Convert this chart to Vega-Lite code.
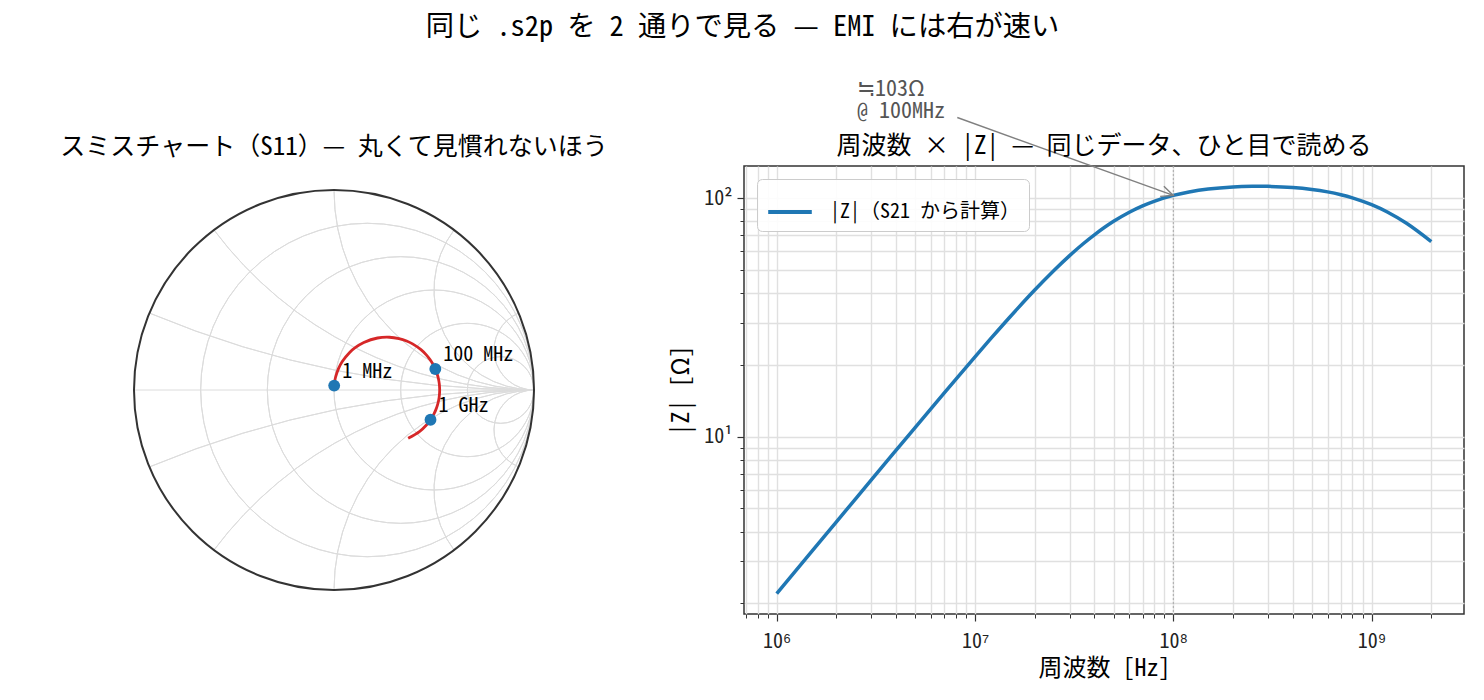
{
  "$schema": "https://vega.github.io/schema/vega-lite/v6.json",
  "background": "white",
  "padding": {"left": 60, "top": 12, "right": 20, "bottom": 22},
  "title": {"text": "同じ .s2p を 2 通りで見る — EMI には右が速い", "anchor": "middle", "frame": "bounds", "fontSize": 28.3, "fontWeight": "normal", "offset": 35.5, "dx": -20, "color": "#000000"},
  "bounds": "flush",
  "spacing": 186,
  "resolve": {"scale": {"color": "independent"}, "legend": {"color": "independent"}},
  "datasets": {
    "smithgrid": [
      {"cx": 0.16667, "cy": 0, "r": 0.83333, "a0": 0, "a1": 360},
      {"cx": 0.33333, "cy": 0, "r": 0.66667, "a0": 0, "a1": 360},
      {"cx": 0.5, "cy": 0, "r": 0.5, "a0": 0, "a1": 360},
      {"cx": 0.66667, "cy": 0, "r": 0.33333, "a0": 0, "a1": 360},
      {"cx": 0.83333, "cy": 0, "r": 0.16667, "a0": 0, "a1": 360},
      {"cx": 1, "cy": 5, "r": 5, "a0": -90, "a1": -112.62},
      {"cx": 1, "cy": 2, "r": 2, "a0": -90, "a1": -143.13},
      {"cx": 1, "cy": 1, "r": 1, "a0": -90, "a1": -180},
      {"cx": 1, "cy": 0.5, "r": 0.5, "a0": -90, "a1": -216.87},
      {"cx": 1, "cy": 0.2, "r": 0.2, "a0": -90, "a1": -247.38},
      {"cx": 1, "cy": -5, "r": 5, "a0": 90, "a1": 112.62},
      {"cx": 1, "cy": -2, "r": 2, "a0": 90, "a1": 143.13},
      {"cx": 1, "cy": -1, "r": 1, "a0": 90, "a1": 180},
      {"cx": 1, "cy": -0.5, "r": 0.5, "a0": 90, "a1": 216.87},
      {"cx": 1, "cy": -0.2, "r": 0.2, "a0": 90, "a1": 247.38}
    ],
    "sweep": [
      {"f": 1000000, "z": 2.199, "gr": 0.0009, "gi": 0.022, "label": "1 MHz"},
      {"f": 2000000, "z": 4.395, "gr": 0.0036, "gi": 0.0437},
      {"f": 3000000, "z": 6.587, "gr": 0.0081, "gi": 0.065},
      {"f": 5000000, "z": 10.947, "gr": 0.0219, "gi": 0.1054},
      {"f": 7000000, "z": 15.261, "gr": 0.0414, "gi": 0.142},
      {"f": 10000000, "z": 21.608, "gr": 0.0782, "gi": 0.1876},
      {"f": 12000000, "z": 25.735, "gr": 0.1058, "gi": 0.2115},
      {"f": 15000000, "z": 31.733, "gr": 0.1489, "gi": 0.2377},
      {"f": 20000000, "z": 41.136, "gr": 0.2177, "gi": 0.26},
      {"f": 25000000, "z": 49.7, "gr": 0.277, "gi": 0.2638},
      {"f": 30000000, "z": 57.37, "gr": 0.325, "gi": 0.257},
      {"f": 35000000, "z": 64.17, "gr": 0.363, "gi": 0.245},
      {"f": 40000000, "z": 70.13, "gr": 0.3928, "gi": 0.2307},
      {"f": 50000000, "z": 79.85, "gr": 0.4348, "gi": 0.2017},
      {"f": 60000000, "z": 87.17, "gr": 0.4615, "gi": 0.1756},
      {"f": 70000000, "z": 92.69, "gr": 0.4792, "gi": 0.1533},
      {"f": 80000000, "z": 96.87, "gr": 0.4915, "gi": 0.1345},
      {"f": 100000000, "z": 102.56, "gr": 0.5066, "gi": 0.1049, "label": "100 MHz"},
      {"f": 120000000, "z": 106.04, "gr": 0.5151, "gi": 0.0826},
      {"f": 150000000, "z": 109.06, "gr": 0.5219, "gi": 0.0576},
      {"f": 200000000, "z": 111.28, "gr": 0.5268, "gi": 0.0283},
      {"f": 250000000, "z": 111.96, "gr": 0.5282, "gi": 0.0069},
      {"f": 300000000, "z": 111.9, "gr": 0.5281, "gi": -0.0103},
      {"f": 400000000, "z": 110.69, "gr": 0.5255, "gi": -0.0382},
      {"f": 500000000, "z": 108.66, "gr": 0.5211, "gi": -0.0614},
      {"f": 600000000, "z": 106.12, "gr": 0.5153, "gi": -0.082},
      {"f": 700000000, "z": 103.27, "gr": 0.5084, "gi": -0.1007},
      {"f": 800000000, "z": 100.2, "gr": 0.5005, "gi": -0.1179},
      {"f": 1000000000, "z": 93.79, "gr": 0.4825, "gi": -0.1486, "label": "1 GHz"},
      {"f": 1200000000, "z": 87.37, "gr": 0.4622, "gi": -0.1748},
      {"f": 1500000000, "z": 78.34, "gr": 0.4287, "gi": -0.2066},
      {"f": 2000000000, "z": 65.66, "gr": 0.3708, "gi": -0.2417}
    ]
  },
  "hconcat": [
    {
      "width": 448,
      "height": 448,
      "title": {"text": "スミスチャート（S11）— 丸くて見慣れないほう", "anchor": "middle", "frame": "group", "fontSize": 25, "fontWeight": "normal", "offset": 6},
      "view": {"stroke": null},
      "layer": [
        {
          "data": {"name": "smithgrid"},
          "mark": {"type": "arc", "filled": false, "stroke": "#dcdcdc", "strokeWidth": 1},
          "encoding": {
            "x": {"field": "cx", "type": "quantitative", "scale": {"domain": [-1.12, 1.12], "nice": false, "zero": false}, "axis": null},
            "y": {"field": "cy", "type": "quantitative", "scale": {"domain": [-1.12, 1.12], "nice": false, "zero": false}, "axis": null},
            "theta": {"field": "a0", "type": "quantitative", "stack": null, "scale": {"type": "linear", "domain": [0, 360], "range": [1.5707963, -4.712389], "nice": false, "zero": false}},
            "theta2": {"field": "a1"},
            "radius": {"field": "r", "type": "quantitative", "stack": null, "scale": {"type": "linear", "domain": [0, 1.12], "range": [0, 224], "nice": false, "zero": true}},
            "radius2": {"field": "r"}
          }
        },
        {
          "data": {"values": [{"xa": -1, "xb": 1, "yy": 0}]},
          "mark": {"type": "rule", "stroke": "#dcdcdc", "strokeWidth": 1},
          "encoding": {
            "x": {"field": "xa", "type": "quantitative", "scale": {"domain": [-1.12, 1.12], "nice": false, "zero": false}, "axis": null},
            "x2": {"field": "xb"},
            "y": {"field": "yy", "type": "quantitative", "scale": {"domain": [-1.12, 1.12], "nice": false, "zero": false}, "axis": null}
          }
        },
        {
          "data": {"values": [{"cx": 0, "cy": 0, "r": 1, "a0": 0, "a1": 360}]},
          "mark": {"type": "arc", "filled": false, "stroke": "#333333", "strokeWidth": 2},
          "encoding": {
            "x": {"field": "cx", "type": "quantitative", "scale": {"domain": [-1.12, 1.12], "nice": false, "zero": false}, "axis": null},
            "y": {"field": "cy", "type": "quantitative", "scale": {"domain": [-1.12, 1.12], "nice": false, "zero": false}, "axis": null},
            "theta": {"field": "a0", "type": "quantitative", "stack": null, "scale": {"type": "linear", "domain": [0, 360], "range": [1.5707963, -4.712389], "nice": false, "zero": false}},
            "theta2": {"field": "a1"},
            "radius": {"field": "r", "type": "quantitative", "stack": null, "scale": {"type": "linear", "domain": [0, 1.12], "range": [0, 224], "nice": false, "zero": true}},
            "radius2": {"field": "r"}
          }
        },
        {
          "data": {"name": "sweep"},
          "mark": {"type": "line", "color": "#d62728", "strokeWidth": 2.8, "interpolate": "catmull-rom"},
          "encoding": {
            "x": {"field": "gr", "type": "quantitative", "scale": {"domain": [-1.12, 1.12], "nice": false, "zero": false}, "axis": null},
            "y": {"field": "gi", "type": "quantitative", "scale": {"domain": [-1.12, 1.12], "nice": false, "zero": false}, "axis": null},
            "order": {"field": "f", "type": "quantitative"}
          }
        },
        {
          "data": {"name": "sweep"},
          "transform": [{"filter": "isValid(datum.label)"}],
          "mark": {"type": "point", "filled": true, "size": 140, "color": "#1f77b4", "opacity": 1},
          "encoding": {
            "x": {"field": "gr", "type": "quantitative", "scale": {"domain": [-1.12, 1.12], "nice": false, "zero": false}, "axis": null},
            "y": {"field": "gi", "type": "quantitative", "scale": {"domain": [-1.12, 1.12], "nice": false, "zero": false}, "axis": null}
          }
        },
        {
          "data": {"name": "sweep"},
          "transform": [{"filter": "isValid(datum.label)"}],
          "mark": {"type": "text", "align": "left", "baseline": "alphabetic", "dx": 8, "dy": -8, "fontSize": 20, "color": "#000000"},
          "encoding": {
            "x": {"field": "gr", "type": "quantitative", "scale": {"domain": [-1.12, 1.12], "nice": false, "zero": false}, "axis": null},
            "y": {"field": "gi", "type": "quantitative", "scale": {"domain": [-1.12, 1.12], "nice": false, "zero": false}, "axis": null},
            "text": {"field": "label"}
          }
        }
      ]
    },
    {
      "width": 720,
      "height": 448,
      "title": {"text": "周波数 × |Z| — 同じデータ、ひと目で読める", "anchor": "middle", "frame": "group", "fontSize": 25, "fontWeight": "normal", "offset": -81},
      "view": {"stroke": "#333333", "strokeWidth": 1.5},
      "resolve": {"axis": {"x": "independent", "y": "independent"}},
      "layer": [
        {
          "data": {"name": "sweep"},
          "mark": {"type": "line", "strokeWidth": 3.5, "interpolate": "catmull-rom"},
          "encoding": {
            "x": {
              "field": "f", "type": "quantitative",
              "scale": {"type": "log", "domain": [683900, 2924000000], "nice": false},
              "axis": {
                "orient": "bottom",
                "values": [1000000, 10000000, 100000000, 1000000000],
                "grid": true, "gridColor": "#e0e0e0", "gridWidth": 1.4,
                "domain": false,
                "tickColor": "#333333", "tickWidth": 1.2, "tickSize": 7,
                "labelExpr": "datum.value == 1000000 ? '10⁶' : datum.value == 10000000 ? '10⁷' : datum.value == 100000000 ? '10⁸' : datum.value == 1000000000 ? '10⁹' : ''",
                "labelFontSize": 20, "labelPadding": 10, "labelColor": "#222222", "labelFlush": false, "labelOverlap": false,
                "title": "周波数 [Hz]", "titleFontSize": 24, "titleFontWeight": "normal", "titlePadding": 5, "titleColor": "#000000"
              }
            },
            "y": {
              "field": "z", "type": "quantitative",
              "scale": {"type": "log", "domain": [1.806, 136.2], "nice": false},
              "axis": {
                "orient": "left",
                "values": [10, 100],
                "grid": true, "gridColor": "#e0e0e0", "gridWidth": 1.4,
                "domain": false,
                "tickColor": "#333333", "tickWidth": 1.2, "tickSize": 7,
                "labelExpr": "datum.value == 10 ? '10¹' : datum.value == 100 ? '10²' : ''",
                "labelFontSize": 20, "labelPadding": 5, "labelColor": "#222222", "labelOverlap": false,
                "title": "|Z| [Ω]", "titleFontSize": 24, "titleFontWeight": "normal", "titlePadding": 10, "titleColor": "#000000"
              }
            },
            "color": {
              "datum": "|Z|（S21 から計算）",
              "scale": {"range": ["#1f77b4"]},
              "legend": {"title": null, "orient": "top-left", "offset": 13, "padding": 9, "fillColor": "rgba(255,255,255,0.9)", "strokeColor": "#cccccc", "cornerRadius": 5, "symbolType": "stroke", "symbolStrokeWidth": 4, "symbolSize": 1900, "labelFontSize": 20, "labelOffset": 16, "labelColor": "#000000", "labelLimit": 500}
            },
            "order": {"field": "f", "type": "quantitative"}
          }
        },
        {
          "data": {"values": [{"f": 100000000}]},
          "mark": {"type": "rule", "color": "#a8a8a8", "strokeWidth": 1, "strokeDash": [2, 2]},
          "encoding": {
            "x": {"field": "f", "type": "quantitative", "scale": {"type": "log", "domain": [683900, 2924000000], "nice": false}, "axis": null}
          }
        },
        {
          "data": {"values": [{"f0": 8140000, "z0": 217.5, "f1": 100000000, "z1": 102.56}]},
          "mark": {"type": "rule", "color": "#808080", "strokeWidth": 1.4},
          "encoding": {
            "x": {"field": "f0", "type": "quantitative", "scale": {"type": "log", "domain": [683900, 2924000000], "nice": false}, "axis": null},
            "y": {"field": "z0", "type": "quantitative", "scale": {"type": "log", "domain": [1.806, 136.2], "nice": false}, "axis": null},
            "x2": {"field": "f1"},
            "y2": {"field": "z1"}
          }
        },
        {
          "data": {"values": [{"f1": 100000000, "z1": 102.56}]},
          "mark": {"type": "point", "shape": "M-1,-0.45L0,0L-1,0.45", "size": 576, "filled": false, "stroke": "#808080", "strokeWidth": 1.4, "angle": 20, "opacity": 1},
          "encoding": {
            "x": {
              "field": "f1", "type": "quantitative",
              "scale": {"type": "log", "domain": [683900, 2924000000], "nice": false},
              "axis": {
                "orient": "bottom",
                "values": [700000, 800000, 900000, 2000000, 3000000, 4000000, 5000000, 6000000, 7000000, 8000000, 9000000, 20000000, 30000000, 40000000, 50000000, 60000000, 70000000, 80000000, 90000000, 200000000, 300000000, 400000000, 500000000, 600000000, 700000000, 800000000, 900000000, 2000000000],
                "grid": true, "gridColor": "#e0e0e0", "gridWidth": 1.4,
                "domain": false, "labels": false, "title": null,
                "tickColor": "#333333", "tickWidth": 1, "tickSize": 4
              }
            },
            "y": {
              "field": "z1", "type": "quantitative",
              "scale": {"type": "log", "domain": [1.806, 136.2], "nice": false},
              "axis": {
                "orient": "left",
                "values": [2, 3, 4, 5, 6, 7, 8, 9, 20, 30, 40, 50, 60, 70, 80, 90],
                "grid": true, "gridColor": "#e0e0e0", "gridWidth": 1.4,
                "domain": false, "labels": false, "title": null,
                "tickColor": "#333333", "tickWidth": 1, "tickSize": 4
              }
            }
          }
        },
        {
          "data": {"values": [{"f": 2540000, "z": 315, "note": "≒103Ω\n@ 100MHz"}]},
          "mark": {"type": "text", "align": "left", "baseline": "top", "fontSize": 22, "lineHeight": 22, "color": "#555555", "lineBreak": "\n"},
          "encoding": {
            "x": {"field": "f", "type": "quantitative", "scale": {"type": "log", "domain": [683900, 2924000000], "nice": false}, "axis": null},
            "y": {"field": "z", "type": "quantitative", "scale": {"type": "log", "domain": [1.806, 136.2], "nice": false}, "axis": null},
            "text": {"field": "note"}
          }
        }
      ]
    }
  ],
  "config": {
    "font": "Noto Sans Mono CJK JP, Noto Sans CJK JP, sans-serif",
    "view": {"stroke": null},
    "title": {"color": "#000000", "fontWeight": "normal"}
  }
}
